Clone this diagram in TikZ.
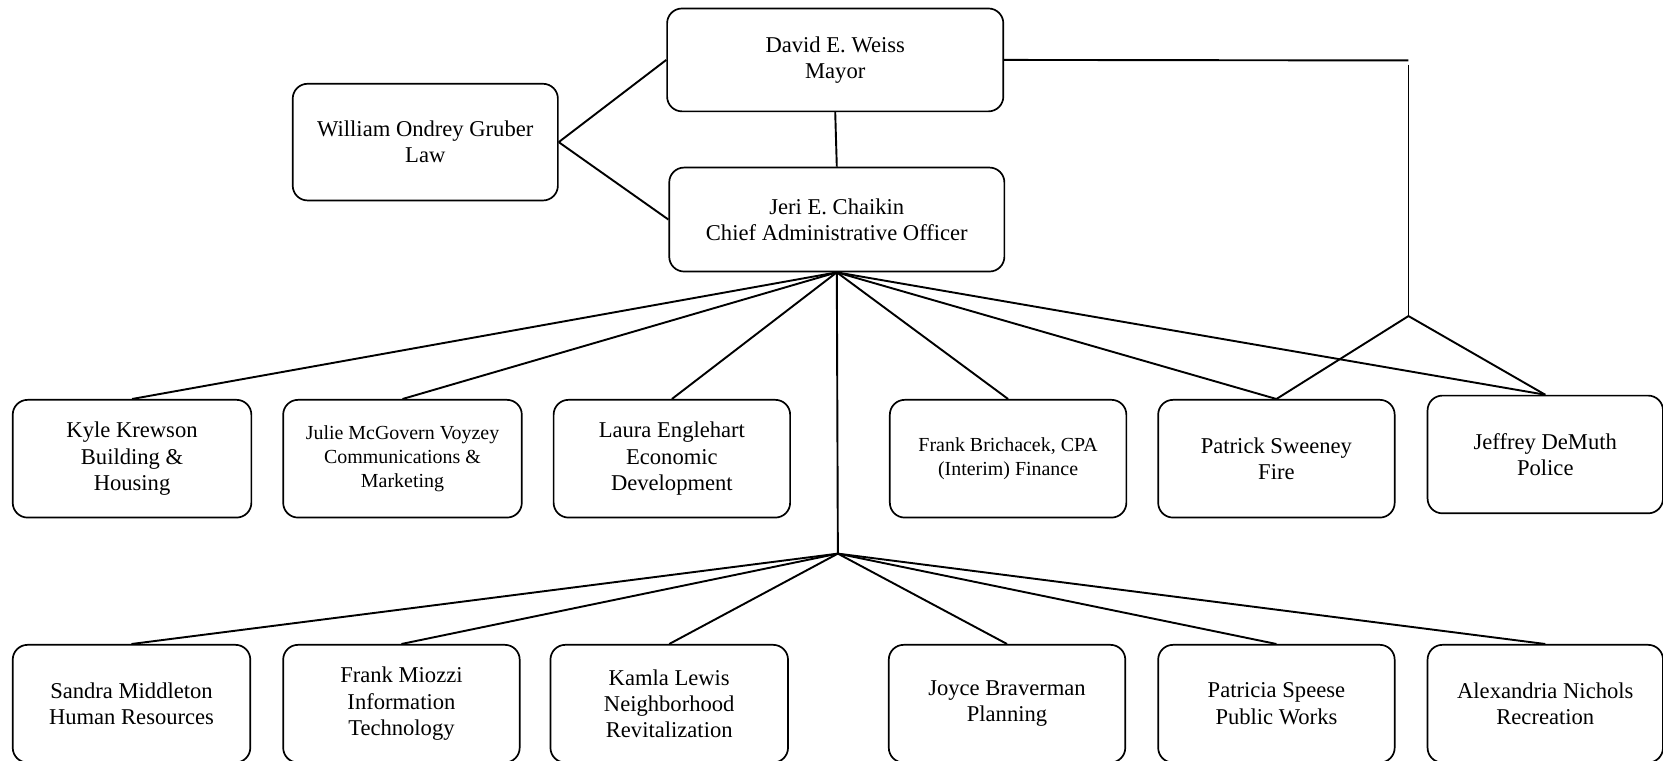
\documentclass[tikz,border=0pt]{standalone}
\usepackage{fontspec}
\setmainfont{Liberation Serif}
\begin{document}
\begin{tikzpicture}[x=1pt,y=-1pt,
  box/.style={draw, line width=1.6pt, rounded corners=14pt, align=center, inner sep=0pt,
    font=\fontsize{21.3}{24.8}\selectfont},
  smallbox/.style={box, font=\fontsize{18.8}{22.5}\selectfont},
  conn/.style={line width=1.8pt}]
\useasboundingbox (0,0) rectangle (1568,717);
% top
\node[box, minimum width=317pt, minimum height=97pt] (mayor) at (787.5,56.5) {David E. Weiss\\Mayor};
\node[box, minimum width=250pt, minimum height=110pt] (law) at (401,134) {William Ondrey Gruber\\Law};
\node[box, minimum width=316pt, minimum height=98pt] (cao) at (789,207) {Jeri E. Chaikin\\Chief Administrative Officer};
% row 1
\node[box, minimum width=225pt, minimum height=111pt] (kyle) at (124.5,432.5) {Kyle Krewson\\Building \&\\Housing};
\node[smallbox, minimum width=225pt, minimum height=111pt] (julie) at (379.5,432.5) {Julie McGovern Voyzey\\Communications \&\\Marketing};
\node[box, minimum width=223pt, minimum height=111pt] (laura) at (633.5,432.5) {Laura Englehart\\Economic\\Development};
\node[smallbox, minimum width=223pt, minimum height=111pt] (frankb) at (950.5,432.5) {Frank Brichacek, CPA\\(Interim) Finance};
\node[box, minimum width=223pt, minimum height=111pt] (patrick) at (1203.5,432.5) {Patrick Sweeney\\Fire};
\node[box, minimum width=222pt, minimum height=111pt] (jeffrey) at (1457,428.5) {Jeffrey DeMuth\\Police};
% row 2
\node[box, minimum width=224pt, minimum height=111pt] (sandra) at (124,663.5) {Sandra Middleton\\Human Resources};
\node[box, minimum width=223pt, minimum height=111pt] (frankm) at (378.5,663.5) {Frank Miozzi\\Information\\Technology};
\node[box, minimum width=224pt, minimum height=111pt] (kamla) at (631,663.5) {Kamla Lewis\\Neighborhood\\Revitalization};
\node[box, minimum width=223pt, minimum height=111pt] (joyce) at (949.5,663.5) {Joyce Braverman\\Planning};
\node[box, minimum width=223pt, minimum height=111pt] (patricia) at (1203.5,663.5) {Patricia Speese\\Public Works};
\node[box, minimum width=222pt, minimum height=111pt] (alex) at (1457,663.5) {Alexandria Nichols\\Recreation};
% coordinates
\coordinate (mr1) at (1328,57);
\coordinate (mr2) at (1328,61);
\coordinate (pj) at (1328,298);
\coordinate (j) at (790,522);
% connectors
\draw[conn] (law.east) -- (mayor.west);
\draw[conn] (law.east) -- (cao.west);
\draw[conn] (mayor.south) -- (cao.north);
\draw[conn] (mayor.east) -- (mr1);
\draw[conn] (mr2) -- (pj);
\draw[conn] (pj) -- (patrick.north);
\draw[conn] (pj) -- (jeffrey.north);
\foreach \t in {kyle,julie,laura,frankb,patrick,jeffrey}
  \draw[conn] (cao.south) -- (\t.north);
\draw[conn] (cao.south) -- (j);
\foreach \t in {sandra,frankm,kamla,joyce,patricia,alex}
  \draw[conn] (j) -- (\t.north);
\end{tikzpicture}
\end{document}
